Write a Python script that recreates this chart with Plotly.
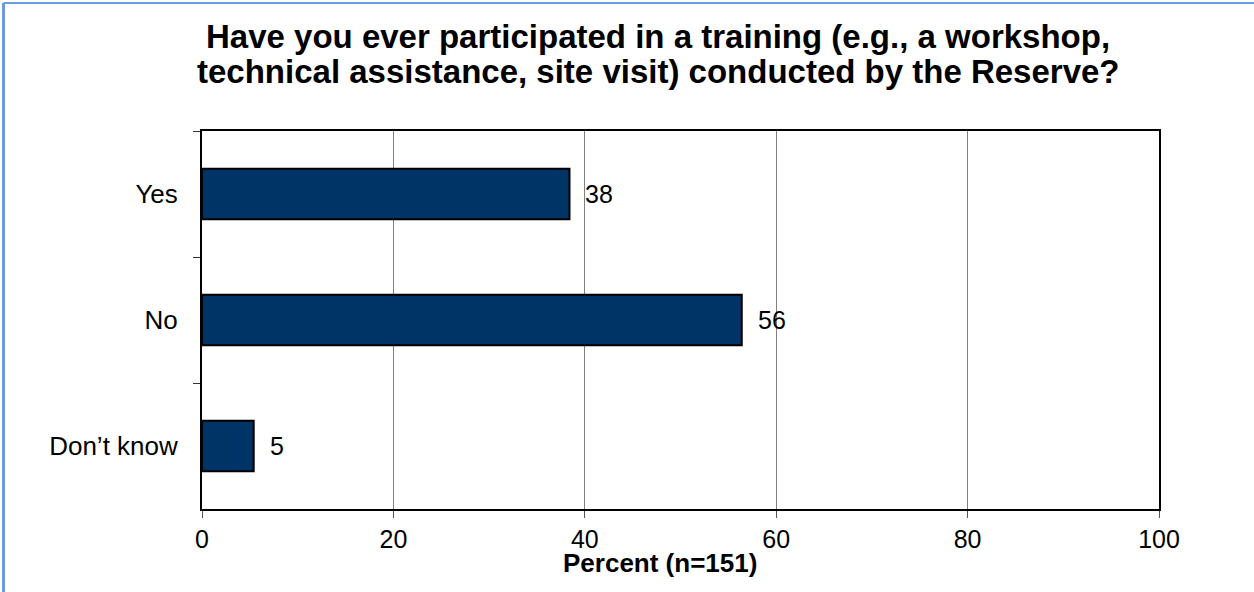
import plotly.graph_objects as go

categories = ["Yes", "No", "Don\u2019t know"]
percents = [38.4, 56.4, 5.4]
labels = ["38", "56", "5"]
x_ticks = [0, 20, 40, 60, 80, 100]

title_lines = ["Have you ever participated in a training (e.g., a workshop,",
               "technical assistance, site visit) conducted by the Reserve?"]
x_title = "Percent (n=151)"

FONT = "Liberation Sans, Arial, sans-serif"

fig = go.Figure()
fig.add_trace(go.Bar(
    x=percents, y=categories, orientation="h", width=0.4,
    marker=dict(color="#003366", line=dict(color="black", width=2)),
    hoverinfo="skip",
))

annotations = []
for v, c, t in zip(percents, categories, labels):
    annotations.append(dict(x=v, y=c, xref="x", yref="y", text=t, showarrow=False,
                            xanchor="left", yanchor="middle", xshift=14,
                            font=dict(family=FONT, size=25, color="black")))
annotations.append(dict(x=0.4765, y=1.2513, xref="paper", yref="paper", text="<b>" + title_lines[0] + "</b>",
                        showarrow=False, xanchor="center", yanchor="middle",
                        font=dict(family=FONT, size=33, color="black")))
annotations.append(dict(x=0.4775, y=1.1587, xref="paper", yref="paper", text="<b>" + title_lines[1] + "</b>",
                        showarrow=False, xanchor="center", yanchor="middle",
                        font=dict(family=FONT, size=33, color="black")))
annotations.append(dict(x=0.4786, y=-0.1429, xref="paper", yref="paper", text="<b>" + x_title + "</b>",
                        showarrow=False, xanchor="center", yanchor="middle",
                        font=dict(family=FONT, size=26, color="black")))

frame = "#6b9ce0"
shapes = [
    dict(type="line", xref="paper", yref="paper", x0=-0.2074, x1=-0.2074, y0=1.3386, y1=-0.3,
         line=dict(color=frame, width=3)),
    dict(type="line", xref="paper", yref="paper", x0=-0.2074, x1=1.2, y0=1.3386, y1=1.3386,
         line=dict(color=frame, width=2)),
]

fig.update_layout(
    width=1254, height=592,
    margin=dict(l=202, r=95, t=131, b=83),
    paper_bgcolor="white", plot_bgcolor="white",
    showlegend=False,
    annotations=annotations,
    shapes=shapes,
    font=dict(family=FONT, size=25, color="black"),
    xaxis=dict(range=[0, 100], tickvals=x_ticks, ticktext=[str(v) for v in x_ticks],
               showgrid=True, gridcolor="#808080", gridwidth=1,
               zeroline=False, showline=True, linecolor="black", linewidth=2, mirror=True,
               ticks="outside", ticklen=7, tickcolor="#555555", tickwidth=1,
               tickfont=dict(family=FONT, size=25, color="black"), fixedrange=True),
    yaxis=dict(categoryorder="array", categoryarray=categories, autorange="reversed",
               showgrid=False, zeroline=False, showline=True, linecolor="black", linewidth=2, mirror=True,
               ticks="outside", ticklen=7, tickcolor="#333333", tickwidth=1, tickson="boundaries",
               ticklabelstandoff=17,
               tickfont=dict(family=FONT, size=26, color="black"), fixedrange=True),
)

fig.write_html("out.html", config={"displayModeBar": False})

with open("out.html", "r", encoding="utf-8") as f:
    html = f.read()
html = html.replace("<head>", "<head><style>html,body{margin:0;padding:0;overflow:hidden;}</style>", 1)
with open("out.html", "w", encoding="utf-8") as f:
    f.write(html)
